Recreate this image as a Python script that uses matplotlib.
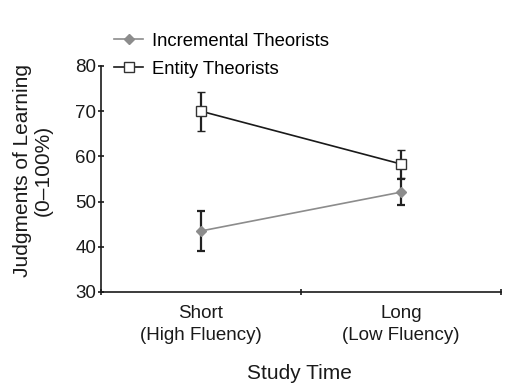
import numpy as np
import matplotlib.pyplot as plt
from matplotlib.lines import Line2D

plt.rcParams['font.family'] = ['Liberation Sans', 'DejaVu Sans']

# data
conditions = ['Short\n(High Fluency)', 'Long\n(Low Fluency)']
incremental = [43.5, 52.1]
incremental_err = [4.4, 2.9]
entity = [70.0, 58.3]
entity_err = [4.3, 3.1]

x = np.array([0.5, 1.5])
ink = '#1a1a1a'
grey = '#8c8c8c'

fig = plt.figure(figsize=(5.12, 3.87), dpi=100)
ax = fig.add_axes([0.197, 0.2455, 0.782, 0.584])

ax.errorbar(x, incremental, yerr=incremental_err, color=grey, lw=1.2,
            marker='D', ms=5.5, mfc=grey, mec=grey,
            ecolor='#222222', elinewidth=1.6, capsize=3, capthick=1.6, zorder=3)
ax.errorbar(x, entity, yerr=entity_err, color=ink, lw=1.2,
            marker='s', ms=6.5, mfc='white', mec='#333333', mew=1,
            ecolor='#222222', elinewidth=1.6, capsize=3, capthick=1.6, zorder=4)

ax.set_xlim(0, 2)
ax.set_ylim(30, 80)
ax.set_yticks([30, 40, 50, 60, 70, 80])
ax.set_xticks([0, 1, 2])
ax.set_xticklabels([])
ax.tick_params(axis='both', direction='inout', length=5, width=1.2,
               labelsize=13.5, colors=ink)
ax.tick_params(axis='y', pad=1)
for s in ['top', 'right']:
    ax.spines[s].set_visible(False)
for s in ['left', 'bottom']:
    ax.spines[s].set_linewidth(1.2)
    ax.spines[s].set_color(ink)

for xi, lab in zip(x, conditions):
    ax.text(xi, 27.2, lab, ha='center', va='top', fontsize=13.5,
            color=ink, linespacing=1.45)

fig.text(0.585, 0.036, 'Study Time', ha='center', va='center', fontsize=15,
         color=ink)
fig.text(0.064, 0.56, 'Judgments of Learning\n(0\u2013100%)', ha='center',
         va='center', rotation=90, fontsize=15, color=ink,
         linespacing=1.1)

handles = [
    Line2D([], [], color=grey, lw=1.2, marker='D', ms=5.5, mfc=grey, mec=grey),
    Line2D([], [], color=ink, lw=1.2, marker='s', ms=6.5, mfc='white',
           mec='#333333', mew=1),
]
fig.legend(handles, ['Incremental Theorists', 'Entity Theorists'],
           loc='upper left', bbox_to_anchor=(0.208, 0.935), frameon=False,
           fontsize=13.3, handlelength=1.6, handletextpad=0.45,
           labelspacing=0.6, borderaxespad=0)

fig.savefig('out.png', dpi=100)
